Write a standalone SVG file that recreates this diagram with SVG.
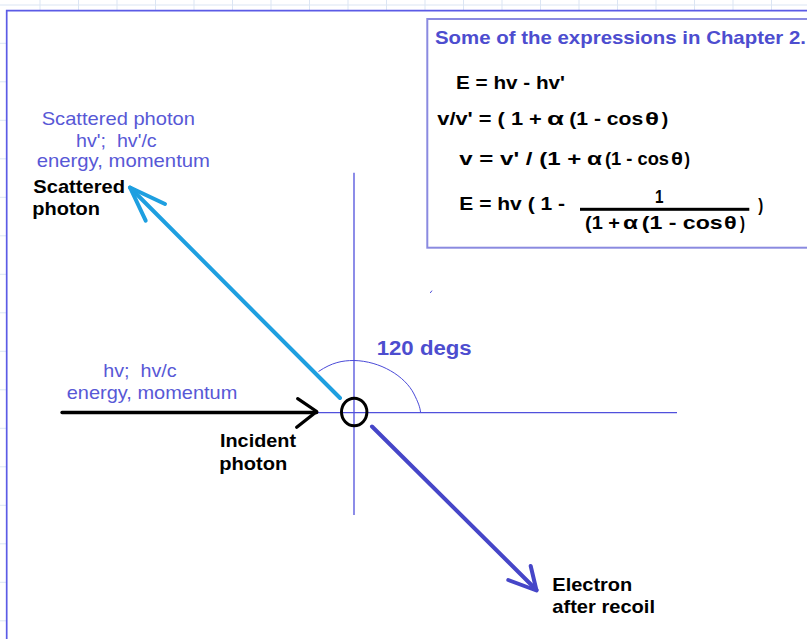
<svg xmlns="http://www.w3.org/2000/svg" width="807" height="639" viewBox="0 0 807 639">
<style>
text{font-family:"Liberation Sans",Arial,sans-serif;white-space:pre}
.lbl{font-size:19px;fill:#5858d6}
.blk{font-size:18.5px;font-weight:bold;fill:#000}
.eq{font-size:18.5px;font-weight:bold;fill:#000}
.ttl{font-size:18.5px;font-weight:bold;fill:#4d4dcf}
.grid{stroke:#dbe5f3;stroke-width:1;fill:none}
.axis{stroke:#5050dc;stroke-width:1.3;fill:none}
</style>
<rect width="807" height="639" fill="#fff"/>
<g id="sheet-grid">
<path class="grid" d="M0,5H807 M40,0V10 M78.5,0V10 M117,0V10 M155.5,0V10 M194,0V10 M232.5,0V10 M271,0V10 M309.5,0V10 M348,0V10 M386.5,0V10 M425,0V10 M463.5,0V10 M502,0V10 M540.5,0V10 M579,0V10 M617.5,0V10 M656,0V10 M694.5,0V10 M733,0V10 M771.5,0V10 M0,43.3H6 M0,81.8H6 M0,120.3H6 M0,158.8H6 M0,197.3H6 M0,235.8H6 M0,274.3H6 M0,312.8H6 M0,351.3H6 M0,389.8H6 M0,428.3H6 M0,466.8H6 M0,505.3H6 M0,543.8H6 M0,582.3H6 M0,620.8H6"/>
<path d="M6.7,639V10.7H807" fill="none" stroke="#5b5be6" stroke-width="1.7"/>
</g>
<g id="expressions-box">
<rect x="427.3" y="19" width="400" height="228.7" fill="#fff" stroke="#8a8ae0" stroke-width="2"/>
<text class="ttl" x="435" y="43.5" textLength="371" lengthAdjust="spacingAndGlyphs">Some of the expressions in Chapter 2.</text>
<text class="eq" x="456" y="89" textLength="109" lengthAdjust="spacingAndGlyphs">E = hv - hv'</text>
<text class="eq" x="437.3" y="124.5" textLength="104.5" lengthAdjust="spacingAndGlyphs">v/v' = ( 1 +</text>
<text class="eq" x="547" y="124.5" textLength="17" lengthAdjust="spacingAndGlyphs">α</text>
<text class="eq" x="569.3" y="124.5" textLength="74" lengthAdjust="spacingAndGlyphs">(1 - cos</text>
<text class="eq" x="645" y="124.5" textLength="14" lengthAdjust="spacingAndGlyphs">θ</text>
<text class="eq" x="661.7" y="124.5" textLength="6.5" lengthAdjust="spacingAndGlyphs">)</text>
<text class="eq" x="459.3" y="165" textLength="122" lengthAdjust="spacingAndGlyphs">v = v' / (1 +</text>
<text class="eq" x="587" y="165" textLength="15" lengthAdjust="spacingAndGlyphs">α</text>
<text class="eq" x="605" y="165" textLength="64" lengthAdjust="spacingAndGlyphs">(1 - cos</text>
<text class="eq" x="671" y="165" textLength="12" lengthAdjust="spacingAndGlyphs">θ</text>
<text class="eq" x="684.5" y="165" textLength="5.5" lengthAdjust="spacingAndGlyphs">)</text>
<text class="eq" x="459.3" y="210" textLength="105.7" lengthAdjust="spacingAndGlyphs">E = hv ( 1 -</text>
<rect x="580" y="207.8" width="169.3" height="3" fill="#000"/>
<text class="eq" x="655" y="203" textLength="8.5" lengthAdjust="spacingAndGlyphs">1</text>
<text class="eq" x="585" y="229" textLength="35" lengthAdjust="spacingAndGlyphs">(1 +</text>
<text class="eq" x="623" y="229" textLength="15" lengthAdjust="spacingAndGlyphs">α</text>
<text class="eq" x="641.7" y="229" textLength="81" lengthAdjust="spacingAndGlyphs">(1 - cos</text>
<text class="eq" x="724" y="229" textLength="12.7" lengthAdjust="spacingAndGlyphs">θ</text>
<text class="eq" x="740" y="229" textLength="5" lengthAdjust="spacingAndGlyphs">)</text>
<text class="eq" x="758.3" y="211" textLength="5" lengthAdjust="spacingAndGlyphs">)</text>
</g>
<g id="axes">
<path class="axis" d="M354,172.7V515 M318,412.7H677"/>
<path d="M318.5,371.5 C332,362.5 342,360.5 354,360.5 C380,361 405,376 414,394 C418,402 420,407 420.5,412" fill="none" stroke="#4a4ad8" stroke-width="1"/>
<path d="M430.2,293 L432,290.6" stroke="#4a4ad8" stroke-width="1"/>
</g>
<g id="electron">
<ellipse cx="354.2" cy="412" rx="12.7" ry="13.8" fill="none" stroke="#000" stroke-width="3"/>
</g>
<g id="connectors" fill="none" stroke-linecap="round" stroke-linejoin="round">
<g id="incident-arrow" stroke="#000" stroke-width="3.3">
<path d="M62,412.5H316.7"/>
<path d="M297.7,398.7 L316.7,411.5 L296.7,427.3"/>
</g>
<g id="scattered-arrow" stroke="#1e9fe0" stroke-width="4">
<path d="M340,398 L130,187.5"/>
<path d="M165,204 L130,187.5 L145.7,220.7"/>
</g>
<g id="recoil-arrow" stroke="#4646c8" stroke-width="4">
<path d="M372,426.5 L536.5,590"/>
<path d="M508.3,580 L536.5,590.5 L530.7,566"/>
</g>
</g>
<g id="scattered-label">
<text class="lbl" x="41.7" y="125" textLength="153.3" lengthAdjust="spacingAndGlyphs">Scattered photon</text>
<text class="lbl" x="76" y="147.3" textLength="80.7" lengthAdjust="spacingAndGlyphs">hv';  hv'/c</text>
<text class="lbl" x="36.7" y="166.7" textLength="173.3" lengthAdjust="spacingAndGlyphs">energy, momentum</text>
<text class="blk" x="33.3" y="192.5" textLength="91.7" lengthAdjust="spacingAndGlyphs">Scattered</text>
<text class="blk" x="32.3" y="215" textLength="67.7" lengthAdjust="spacingAndGlyphs">photon</text>
</g>
<g id="incident-label">
<text class="lbl" x="103.3" y="376.5" textLength="73.3" lengthAdjust="spacingAndGlyphs">hv;  hv/c</text>
<text class="lbl" x="66.7" y="399.3" textLength="170.7" lengthAdjust="spacingAndGlyphs">energy, momentum</text>
<text class="blk" x="220" y="446.7" textLength="76" lengthAdjust="spacingAndGlyphs">Incident</text>
<text class="blk" x="219.3" y="469.5" textLength="68" lengthAdjust="spacingAndGlyphs">photon</text>
</g>
<g id="angle-label">
<text x="376.7" y="355" textLength="95" lengthAdjust="spacingAndGlyphs" style="font-size:20px;font-weight:bold;fill:#4d4dcf">120 degs</text>
</g>
<g id="recoil-label">
<text class="blk" x="552.3" y="591" textLength="80" lengthAdjust="spacingAndGlyphs">Electron</text>
<text class="blk" x="552.3" y="613" textLength="102.7" lengthAdjust="spacingAndGlyphs">after recoil</text>
</g>
</svg>
